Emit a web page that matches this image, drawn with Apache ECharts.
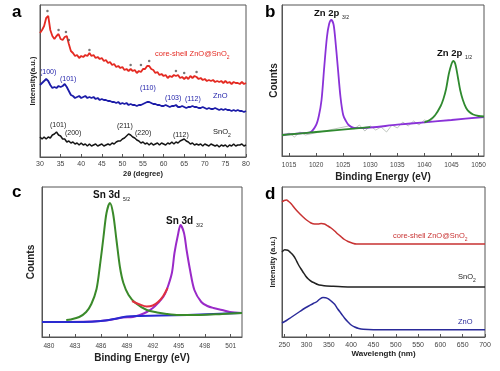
<!DOCTYPE html>
<html><head><meta charset="utf-8">
<script src="https://cdn.jsdelivr.net/npm/echarts@6/dist/echarts.min.js"></script>
<style>html,body{margin:0;padding:0;background:#fff}#c{width:500px;height:371px}</style>
</head><body><div id="c"></div>
<script>
// ---------- Panel a: XRD ----------
const xrdX = [30,30.5,31,31.5,32,32.5,33,33.5,34,34.5,35,35.5,36,36.5,37,37.5,38,38.5,39,39.5,40,40.5,41,41.5,42,42.5,43,43.5,44,44.5,45,45.5,46,46.5,47,47.5,48,48.5,49,49.5,50,50.5,51,51.5,52,52.5,53,53.5,54,54.5,55,55.5,56,56.5,57,57.5,58,58.5,59,59.5,60,60.5,61,61.5,62,62.5,63,63.5,64,64.5,65,65.5,66,66.5,67,67.5,68,68.5,69,69.5,70,70.5,71,71.5,72,72.5,73,73.5,74,74.5,75,75.5,76,76.5,77,77.5,78,78.5,79,79.5,80];
const xrdCoreShell = [124,127,131,139,141,127,121,118,121,123,118,117,120,121,113,106,104,101,102,99,101,100,102,101,104,101,102,99,100,98,99,96,97,94,95,92,93,90,91,89,90,87,88,86,88,86,87,84,86,85,88,88,91,91,88,87,84,85,82,83,81,82,79,81,80,82,81,82,79,80,78,80,78,81,79,81,80,78,79,77,78,76,77,76,77,75,76,75,76,74,76,74,75,73,75,74,74,73,75,73,74];
const xrdZnO = [72,74,76,78,76,72,69,70,69,71,70,71,73,70,66,62,61,59,60,61,59,60,61,59,60,59,60,58,59,57,58,57,57,56,56,55,55,54,55,53,54,53,54,52,53,52,52,51,52,52,53,54,55,55,54,53,53,52,52,51,51,52,51,50,51,51,52,50,50,51,50,49,50,50,51,50,50,49,49,50,49,48,49,48,48,49,48,47,48,47,48,47,47,46,47,46,47,46,46,45,46];
const xrdSnO2 = [20,18,20,18,20,19,22,23,25,22,21,18,18,15,16,14,15,13,14,12,14,12,13,11,13,11,12,13,11,12,13,11,12,13,12,14,13,15,16,16,18,19,21,23,22,20,19,17,16,14,15,13,14,12,14,12,13,14,12,14,13,12,14,13,15,13,15,14,16,17,18,16,15,13,14,12,13,12,13,11,13,12,11,13,12,11,12,10,12,11,12,10,12,11,13,11,12,12,13,11,12];
const xrdStarX = [31.8,34.5,36.3,37,42,52,54.5,56.5,63,65,68];
const xrdStarY = [146,127,125,117,107,92,92,96,86,84,85];
const xrdTicks = [30,35,40,45,50,55,60,65,70,75,80];

// ---------- Panel b: Zn 2p XPS ----------
const znTicks = [1015,1020,1025,1030,1035,1040,1045,1050];
const zn32X = [1013.7,1017,1019,1020,1020.5,1021,1021.5,1022,1022.4,1022.8,1023.2,1023.5,1024,1024.5,1025,1025.5,1026,1027,1028,1035,1040,1045,1051];
const zn32Y = [21,22.6,24,31,40,56,89,119,132,136,132,119,89,59,41,35,31,28,27.9,31.3,33.7,36,39];
const zn12X = [1013.7,1020,1030,null,1040,1041,1042,1043,1043.5,1044,1044.5,1045,1045.3,1045.7,1046.2,1046.6,1047.1,1047.7,1048.3,1049,1050,1051];
const zn12Y = [21,24,28.9,null,33.7,36,41,50,57,67,82,92,95,92,78,66,56,48,44,41.5,40,39.5];
const znRawX = [1014,1015,1016,1017,1018,1026,1027,1028,1029,1030,1031,1032,1033,1034,1035,1036,1037,1038,1039,1040,1041,1042];
const znRawY = [20,23,19,24,21,30,27,31,25,30,26,29,24,31,28,34,30,35,31,36,34,40];

// ---------- Panel c: Sn 3d XPS ----------
const snTicks = [480,483,486,489,492,495,498,501];
const sn52X = [482,482.5,483.5,484.3,484.9,485.5,485.9,486.3,486.65,487.04,487.4,487.8,488.2,488.6,489.2,490,491.3,492.5,493.6,495,497.4,500,502.3];
const sn52Y = [17,17.5,20,25,33,48,72,100,124,134,124,97,70,54,42,34,27,24.5,23,22,22,23,24];
const sn32X = [479.2,485,487,488.5,489.7,490.5,491.3,492,492.6,493.2,493.6,494.2,494.5,494.9,495.2,495.6,495.9,496.3,496.8,497.6,498.3,499,500,500.9,502.3];
const sn32Y = [15,15.5,17,19.5,20,22,25,29,34,40,47,64,84,102,112,104,87,67,47,35,31,29,27,25,24];
const snBgX = [479.2,484,486,487.5,489,490.5,493,496,499,502.3];
const snBgY = [15,15,16,18,20.5,21,21.5,22,23,24];
const snEnvX = [489.6,490.5,491.3,492,492.6,493.2,493.7];
const snEnvY = [36,32.5,30.5,31.5,35,41,49];

// ---------- Panel d: UV-vis ----------
const uvTicks = [250,300,350,400,450,500,550,600,650,700];
const uvCoreX = [245,250,255,260,266,273,281,290,300,310,318,326,333,340,348,355,363,370,378,385,393,402,412,430,500,600,700];
const uvCoreY = [135,136.5,137,135.5,133,129,125,121,117,114,113,113,113.5,113,111,109,106,103,100,97.5,95.5,94,93,93,93,93,93];
const uvSnX = [245,251,258,264,270,276,281,287,292,298,304,311,318,325,333,345,360,397,500,700];
const uvSnY = [85,87.3,86.7,84.5,81.7,77.5,73,68.5,65,61,58,55.5,54,52.5,51.7,51,50.7,50,50,50];
const uvZnX = [245,255,265,275,285,295,305,315,322,330,337,343,348,355,363,370,378,385,393,400,408,417,427,450,700];
const uvZnY = [14,16.5,19.5,22.5,25.5,28.5,31,33.5,35,38,39.5,39.3,38.3,36,32.7,28,23.3,19,15,12,10,8.5,7.7,7.3,7.3];

const zip = (xs, ys) => xs.map((x, i) => (x === null ? null : [x, ys[i]]));

const FONT = 'Liberation Sans';
const frame = '#555';

function xAx(gi, min, max, ticks, name, gap, nameSize, labSize, labMargin) {
  return {
    gridIndex: gi, type: 'value', min, max,
    axisLine: { show: true, lineStyle: { color: frame, width: 1 } },
    axisTick: { show: true, inside: true, length: 3, customValues: ticks, lineStyle: { color: frame } },
    axisLabel: { customValues: ticks, fontSize: labSize, color: '#444', fontFamily: FONT, margin: labMargin,
      formatter: v => String(v) },
    splitLine: { show: false },
    name, nameLocation: 'middle', nameGap: gap,
    nameTextStyle: { fontFamily: FONT, fontSize: nameSize, fontWeight: 'bold', color: '#222' }
  };
}
function yAx(gi, max, name, gap, size) {
  return {
    gridIndex: gi, type: 'value', min: 0, max,
    axisLine: { show: true, lineStyle: { color: frame, width: 1 } },
    axisTick: { show: false }, axisLabel: { show: false }, splitLine: { show: false },
    name, nameLocation: 'middle', nameGap: gap,
    nameTextStyle: { fontFamily: FONT, fontSize: size, fontWeight: 'bold', color: '#222' }
  };
}
function line(gi, data, color, w, z) {
  return { type: 'line', xAxisIndex: gi, yAxisIndex: gi, data, showSymbol: false, symbol: 'none',
    connectNulls: false, smooth: false, lineStyle: { color, width: w }, z: z || 2, animation: false };
}
function smoothLine(gi, data, color, w, z) {
  const s = line(gi, data, color, w, z); s.smooth = 0.3; return s;
}
function txt(left, top, text, color, size, weight, rich) {
  return { type: 'text', left, top, style: { text, fill: color, font: (weight || 'normal') + ' ' + size + 'px "' + FONT + '"', rich: rich || undefined } };
}
const subRich = (c, s) => ({ s: { fontSize: s, fill: c, fontFamily: FONT, verticalAlign: 'bottom', padding: [0, 0, -2, 0] } });

const chart = echarts.init(document.getElementById('c'), null, { renderer: 'canvas' });
chart.setOption({
  backgroundColor: '#fff',
  animation: false,
  grid: [
    { left: 40, top: 5, width: 206, height: 152, show: true, borderColor: frame, borderWidth: 1 },
    { left: 282, top: 5, width: 202, height: 151, show: true, borderColor: frame, borderWidth: 1 },
    { left: 42, top: 187, width: 200, height: 150, show: true, borderColor: frame, borderWidth: 1 },
    { left: 282, top: 187, width: 203, height: 150, show: true, borderColor: frame, borderWidth: 1 }
  ],
  xAxis: [
    xAx(0, 30, 80, xrdTicks, '2θ (degree)', 13, 7.5, 7, 4),
    xAx(1, 1013.7, 1051, znTicks, 'Binding Energy (eV)', 16, 10, 6.5, 6),
    xAx(2, 479.2, 502.3, snTicks, 'Binding Energy (eV)', 16, 10, 6.5, 6),
    xAx(3, 245, 700, uvTicks, 'Wavelength (nm)', 13, 8, 7, 5)
  ],
  yAxis: [
    yAx(0, 152, 'Intensity(a.u.)', 3, 7.5),
    yAx(1, 151, 'Counts', 3, 10),
    yAx(2, 150, 'Counts', 6, 10),
    yAx(3, 150, 'Intensity (a.u.)', 5, 7.5)
  ],
  series: [
    line(0, zip(xrdX, xrdCoreShell), '#e42a22', 1.8),
    line(0, zip(xrdX, xrdZnO), '#1c1ca8', 1.8),
    line(0, zip(xrdX, xrdSnO2), '#151515', 1.5),
    { type: 'scatter', xAxisIndex: 0, yAxisIndex: 0, data: zip(xrdStarX, xrdStarY), symbol: 'circle', symbolSize: 2.5,
      itemStyle: { color: '#555' }, animation: false, z: 3 },

    line(1, zip(znRawX, znRawY), '#b0b8b0', 0.8, 1),
    smoothLine(1, zip(zn32X, zn32Y), '#8a32d8', 1.8, 2),
    smoothLine(1, zip(zn12X, zn12Y), '#2f8a2f', 1.8, 3),

    smoothLine(2, zip(sn32X, sn32Y), '#9a2ac8', 2, 2),
    smoothLine(2, zip(snBgX, snBgY), '#2a2ad0', 2, 3),
    smoothLine(2, zip(sn52X, sn52Y), '#3a8a2a', 2, 4),
    smoothLine(2, zip(snEnvX, snEnvY), '#e03040', 2, 5),

    smoothLine(3, zip(uvCoreX, uvCoreY), '#c83232', 1.5),
    smoothLine(3, zip(uvSnX, uvSnY), '#222222', 1.5),
    smoothLine(3, zip(uvZnX, uvZnY), '#2a2a9a', 1.5)
  ],
  graphic: [
    txt(12, 4, 'a', '#000', 17, 'bold'),
    txt(265, 4, 'b', '#000', 17, 'bold'),
    txt(12, 184, 'c', '#000', 17, 'bold'),
    txt(265, 186, 'd', '#000', 17, 'bold'),

    txt(155, 50, 'core-shell ZnO@SnO{s|2}', '#e42a22', 7.5, 'normal', subRich('#e42a22', 5)),
    txt(213, 92, 'ZnO', '#1c1ca8', 7.5),
    txt(213, 128, 'SnO{s|2}', '#151515', 7.5, 'normal', subRich('#151515', 5)),
    txt(40, 69, '(100)', '#1c1ca8', 7),
    txt(60, 76, '(101)', '#1c1ca8', 7),
    txt(140, 85, '(110)', '#1c1ca8', 7),
    txt(165, 95, '(103)', '#1c1ca8', 7),
    txt(185, 96, '(112)', '#1c1ca8', 7),
    txt(50, 122, '(101)', '#222', 7),
    txt(65, 130, '(200)', '#222', 7),
    txt(117, 123, '(211)', '#222', 7),
    txt(135, 130, '(220)', '#222', 7),
    txt(173, 132, '(112)', '#222', 7),

    txt(314, 8, 'Zn 2p {s|3/2}', '#111', 9.5, 'bold', subRich('#111', 5)),
    txt(437, 48, 'Zn 2p {s|1/2}', '#111', 9.5, 'bold', subRich('#111', 5)),

    txt(93, 190, 'Sn 3d {s|5/2}', '#111', 10, 'bold', subRich('#111', 5)),
    txt(166, 216, 'Sn 3d {s|3/2}', '#111', 10, 'bold', subRich('#111', 5)),

    txt(393, 232, 'core-shell ZnO@SnO{s|2}', '#c83232', 7.5, 'normal', subRich('#c83232', 5)),
    txt(458, 273, 'SnO{s|2}', '#222', 7.5, 'normal', subRich('#222', 5)),
    txt(458, 318, 'ZnO', '#2a2a9a', 7.5)
  ]
});
</script></body></html>
